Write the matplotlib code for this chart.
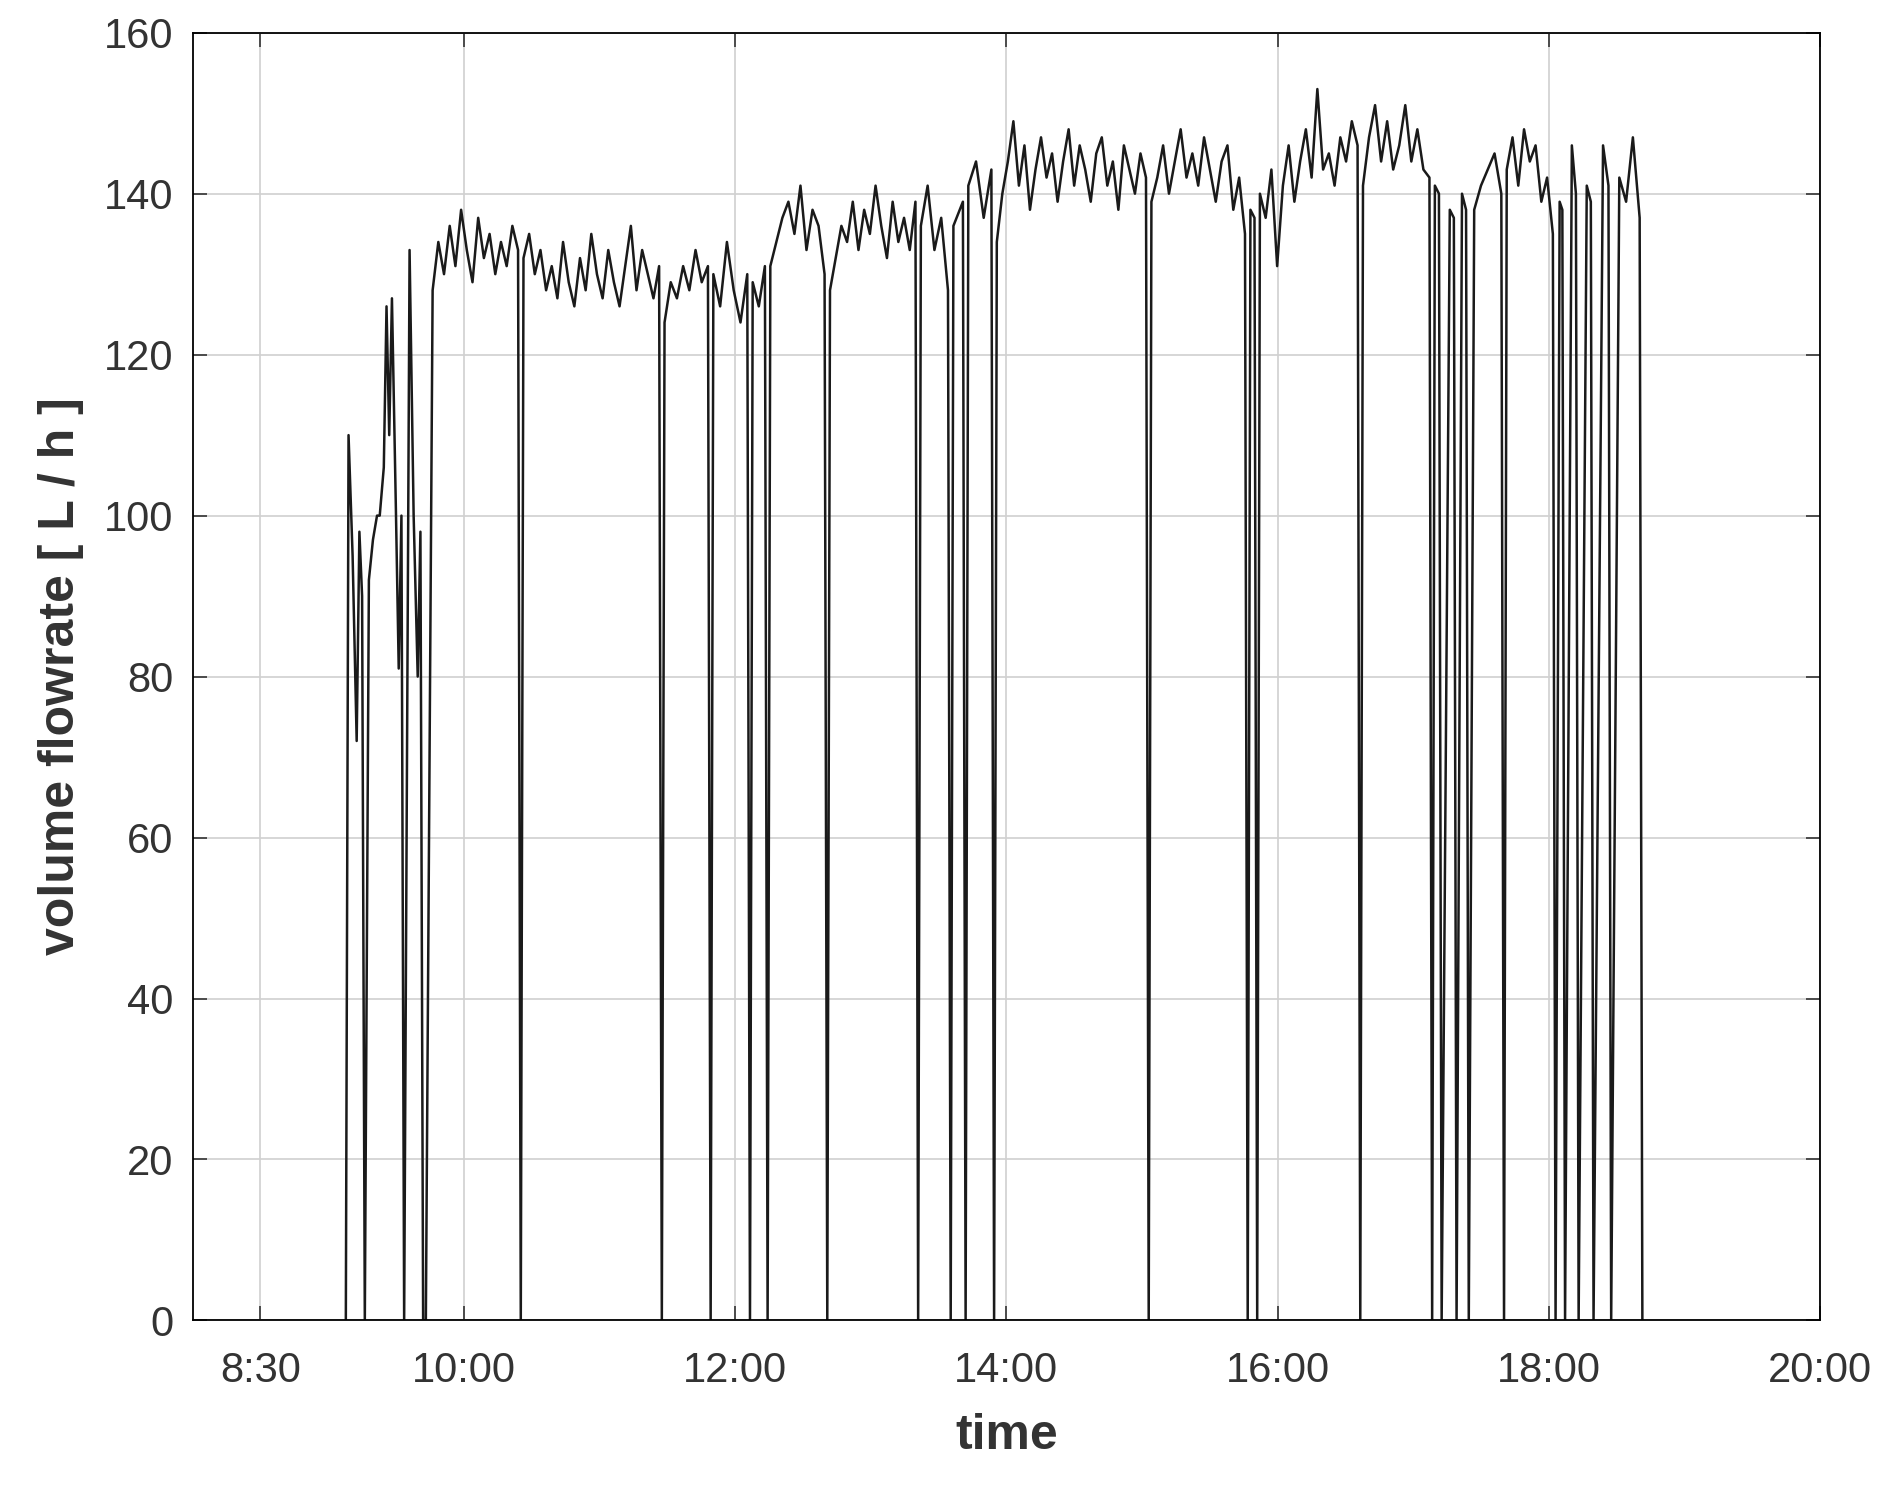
import numpy as np
import matplotlib
matplotlib.use("Agg")
import matplotlib.pyplot as plt

plt.rcParams['font.family'] = ['Liberation Sans', 'DejaVu Sans']

# early start-up phase (hours, L/h)
early_t = [9.13, 9.15, 9.18, 9.21, 9.23, 9.25, 9.27, 9.30, 9.33, 9.36, 9.38, 9.41, 9.43, 9.45, 9.47, 9.50, 9.52, 9.54, 9.56, 9.60, 9.63, 9.66, 9.68, 9.70, 9.72]
early_v = [0, 110, 95, 72, 98, 90, 0, 92, 97, 100, 100, 106, 126, 110, 127, 100, 81, 100, 0, 133, 100, 80, 98, 0, 0]

# steady segments between drop-outs: (start, end, values)
seg_start = [9.77, 10.44, 11.48, 11.84, 12.13, 12.26, 12.70, 13.37, 13.61, 13.72, 13.93, 15.07, 15.80, 15.87, 16.63, 17.16, 17.27, 17.36, 17.45, 17.69, 18.08, 18.17, 18.28, 18.40, 18.52]
seg_end   = [10.40, 11.44, 11.80, 12.09, 12.22, 12.66, 13.33, 13.57, 13.68, 13.89, 15.03, 15.76, 15.83, 16.59, 17.12, 17.19, 17.30, 17.39, 17.65, 18.03, 18.10, 18.20, 18.31, 18.44, 18.67]
seg_vals = [
    [128,134,130,136,131,138,133,129,137,132,135,130,134,131,136,133],
    [132,135,130,133,128,131,127,134,129,126,132,128,135,130,127,133,129,126,131,136,128,133,130,127,131],
    [124,129,127,131,128,133,129,131],
    [130,126,134,128,124,130],
    [129,126,131],
    [131,134,137,139,135,141,133,138,136,130],
    [128,132,136,134,139,133,138,135,141,136,132,139,134,137,133,139],
    [136,141,133,137,128],
    [136,139],
    [141,144,137,143],
    [134,140,144,149,141,146,138,143,147,142,145,139,144,148,141,146,143,139,145,147,141,144,138,146,143,140,145,142],
    [139,142,146,140,144,148,142,145,141,147,143,139,144,146,138,142,135],
    [138,137],
    [140,137,143,131,141,146,139,144,148,142,153,143,145,141,147,144,149,146],
    [141,147,151,144,149,143,146,151,144,148,143,142],
    [141,140],
    [138,137],
    [140,138],
    [138,141,143,145,140],
    [143,147,141,148,144,146,139,142,135],
    [139,138],
    [146,140],
    [141,139],
    [146,141],
    [142,139,147,137],
]

t = list(early_t)
v = list(early_v)
for s, e, vals in zip(seg_start, seg_end, seg_vals):
    tt = np.linspace(s, e, len(vals))
    t.extend(tt); v.extend(vals)
    t.append(e + 0.02); v.append(0)

fig = plt.figure(figsize=(18.88, 14.87), dpi=100)
ax = fig.add_axes([0.102, 0.112, 0.862, 0.866])
ax.plot(t, v, color='#1a1a1a', lw=1.8)
ax.set_xlim(8.0, 20.0)
ax.set_ylim(0, 160)
xt = [8.5, 10, 12, 14, 16, 18, 20]
ax.set_xticks(xt)
ax.set_xticklabels(['8:30', '10:00', '12:00', '14:00', '16:00', '18:00', '20:00'])
ax.set_yticks(np.arange(0, 161, 20))
ax.grid(True, color='#d0d0d0', lw=1.2)
ax.tick_params(direction='in', top=True, right=True, length=10, width=1.2, labelsize=30, colors='#333333')
ax.tick_params(axis='x', pad=22)
ax.tick_params(axis='y', pad=14)
for sp in ax.spines.values():
    sp.set_linewidth(1.3)
ax.set_xlabel('time', fontsize=36, fontweight='bold', color='#333333', labelpad=16)
ax.set_ylabel('volume flowrate [ L / h ]', fontsize=36, fontweight='bold', color='#333333', labelpad=14)
fig.savefig('out.png', dpi=100)
